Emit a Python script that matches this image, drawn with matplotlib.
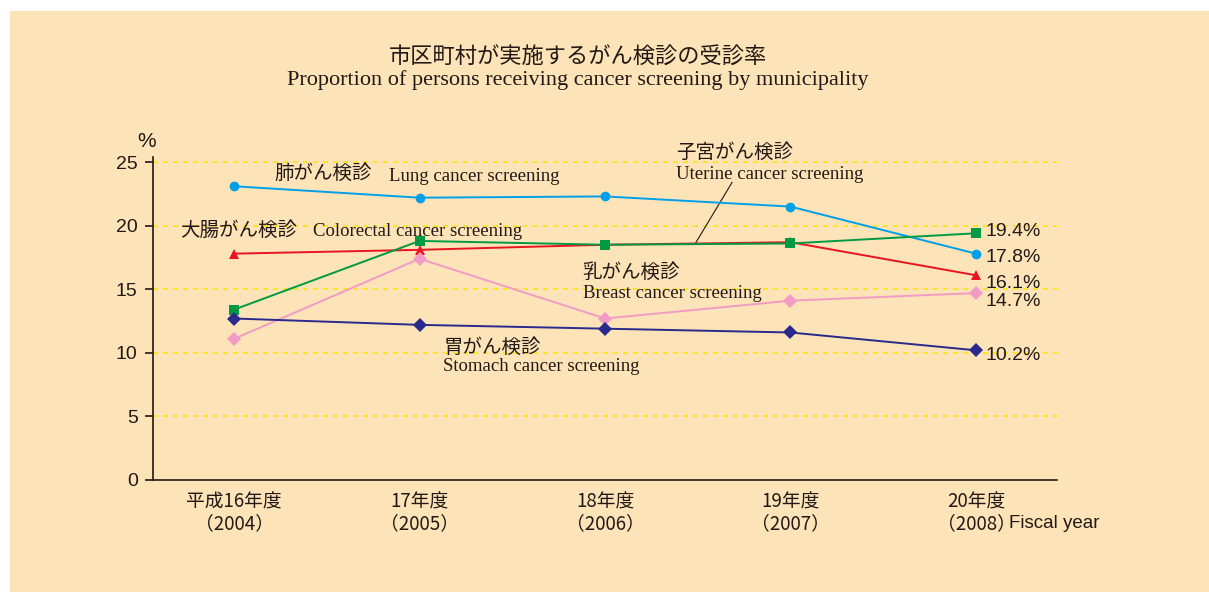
"""
Cancer screening uptake by municipality, FY2004-2008.
"""

import matplotlib
matplotlib.use("Agg")
import matplotlib.pyplot as plt
from matplotlib.patches import Rectangle

# Data

YEARS_JP = ["平成16年度", "17年度", "18年度", "19年度", "20年度"]
YEARS_EN = ["（2004）", "（2005）", "（2006）", "（2007）", "（2008）"]

LUNG = [23.1, 22.2, 22.3, 21.5, 17.8]
COLORECTAL = [17.8, 18.1, 18.5, 18.7, 16.1]
UTERINE = [13.4, 18.8, 18.5, 18.6, 19.4]
BREAST = [11.1, 17.4, 12.7, 14.1, 14.7]
STOMACH = [12.7, 12.2, 11.9, 11.6, 10.2]

Y_TICKS = [0, 5, 10, 15, 20, 25]

# Styles

BG = "#FDE3B8"
JP = ["Noto Sans CJK JP", "DejaVu Sans"]
SERIF = ["Liberation Serif", "DejaVu Serif"]
SANS = ["Liberation Sans", "DejaVu Sans"]
TEXT = "#231815"

series = [
    (LUNG, "#00A0E9", "o", 7),
    (COLORECTAL, "#E8141E", "^", 7.5),
    (UTERINE, "#009944", "s", 7),
    (BREAST, "#F29BC4", "D", 7),
    (STOMACH, "#2A2A8C", "D", 7),
]

fig = plt.figure(figsize=(12.09, 5.92), dpi=100)
fig.patch.set_facecolor("white")
fig.patches.append(
    Rectangle((10 / 1209, 0), 1.0, 1 - 11 / 592, transform=fig.transFigure,
              facecolor=BG, edgecolor="none", zorder=-10)
)

ax = fig.add_axes([153 / 1209, 1 - 480 / 592, 904 / 1209, 323 / 592])
ax.set_facecolor("none")

x = list(range(len(YEARS_JP)))
for vals, color, marker, ms in series:
    ax.plot(x, vals, color=color, linewidth=1.4, marker=marker, markersize=ms,
            markeredgewidth=0, zorder=3, clip_on=False)

ax.set_xlim(-0.437, 4.437)
ax.set_ylim(0, 25.4)

for y in Y_TICKS[1:]:
    ax.axhline(y, color="#FFE600", linestyle=(0, (3, 3)), linewidth=1.2, zorder=1)

ax.spines["top"].set_visible(False)
ax.spines["right"].set_visible(False)
ax.spines["left"].set_color(TEXT)
ax.spines["bottom"].set_color(TEXT)
ax.spines["left"].set_linewidth(1.2)
ax.spines["bottom"].set_linewidth(1.2)

ax.set_yticks(Y_TICKS)
ax.set_yticklabels([str(v) for v in Y_TICKS], family=SANS, fontsize=14, color=TEXT)
ax.tick_params(axis="y", length=6, width=1.2, color=TEXT, pad=5)
ax.set_xticks(x)
ax.set_xticklabels([f"{a}\n{b}" for a, b in zip(YEARS_JP, YEARS_EN)],
                   family=JP, fontsize=13.5, color=TEXT, linespacing=1.08)
ax.tick_params(axis="x", length=0, pad=8)

ax.text(-0.47, 25.9, "%", family=SANS, fontsize=15, color=TEXT,
        ha="center", va="bottom")
ax.text(4.18, -3.45, "Fiscal year", family=SANS, fontsize=13.5, color=TEXT,
        ha="left", va="center")

# Series labels
def label(xp, yp, s, fam, size=14):
    ax.text(xp, yp, s, family=fam, fontsize=size, color=TEXT,
            ha="left", va="center", clip_on=False)

label(0.22, 24.1, "肺がん検診", JP)
label(0.835, 23.85, "Lung cancer screening", SERIF, 13.5)
label(-0.29, 19.65, "大腸がん検診", JP)
label(0.426, 19.55, "Colorectal cancer screening", SERIF, 13.5)
label(2.383, 25.75, "子宮がん検診", JP)
label(2.383, 24.05, "Uterine cancer screening", SERIF, 13.5)
label(1.88, 16.3, "乳がん検診", JP)
label(1.88, 14.65, "Breast cancer screening", SERIF, 13.5)
label(1.127, 10.45, "胃がん検診", JP)
label(1.127, 8.95, "Stomach cancer screening", SERIF, 13.5)

ax.plot([2.685, 2.485], [23.4, 18.55], color=TEXT, linewidth=0.8, zorder=2)

# End values
end_pos = [(UTERINE[-1], 19.55), (LUNG[-1], 17.5), (COLORECTAL[-1], 15.45),
           (BREAST[-1], 14.05), (STOMACH[-1], 9.8)]
for val, ypos in end_pos:
    ax.text(4.05, ypos, f"{val:.1f}%", family=SANS, fontsize=14, color=TEXT,
            ha="left", va="center", clip_on=False)

fig.text(578 / 1209, 1 - 57 / 592, "市区町村が実施するがん検診の受診率", family=JP,
         fontsize=16, color=TEXT, ha="center", va="center")
fig.text(578 / 1209, 1 - 80 / 592,
         "Proportion of persons receiving cancer screening by municipality",
         family=SERIF, fontsize=16, color=TEXT, ha="center", va="center")

fig.savefig("out.png", dpi=100, facecolor=fig.get_facecolor())
